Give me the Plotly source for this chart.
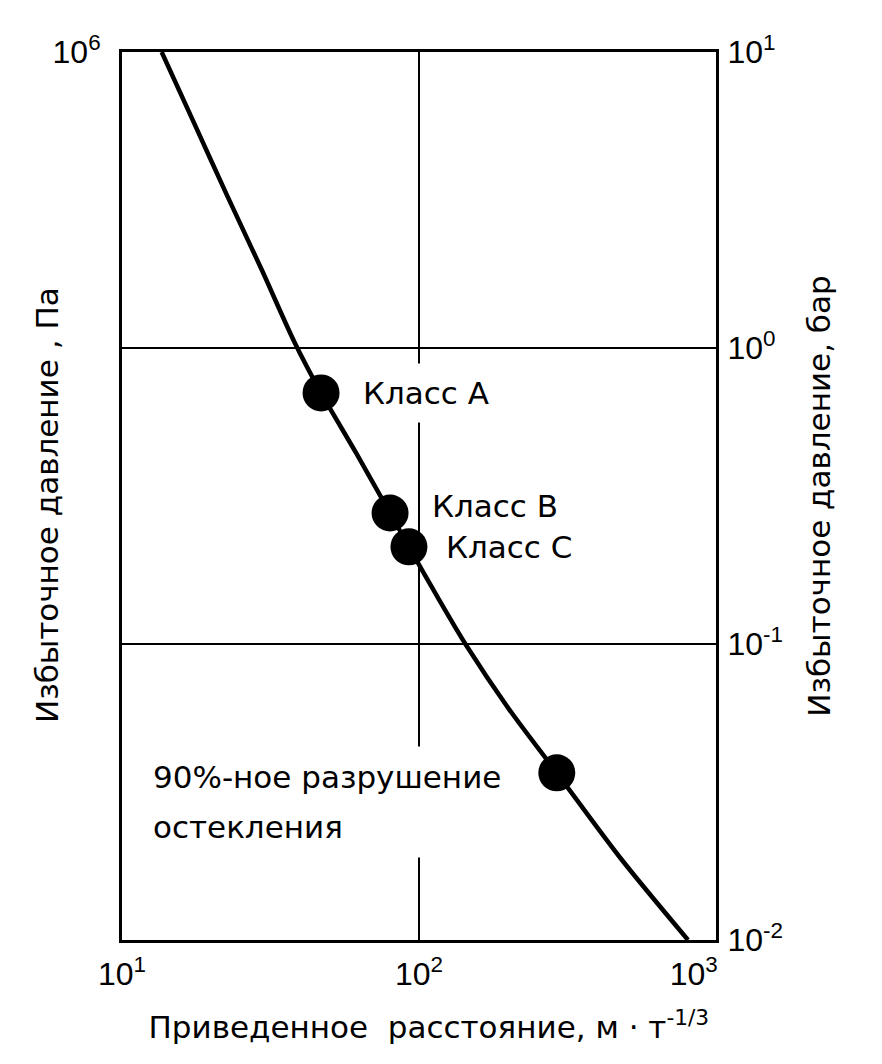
import math
import plotly.graph_objects as go

# reduced distance (m*t^-1/3) and overpressure (bar)
curve_dist = [13.6, 17.6, 22.7, 29.6, 38.2, 46.8, 61.4, 79.9, 92.5, 115, 144, 202, 291, 475, 805]
curve_bar = [10.0, 5.67, 3.24, 1.83, 1.04, 0.705, 0.442, 0.277, 0.213, 0.145, 0.0992, 0.0598,
             0.0367, 0.0190, 0.0100]
curve_pa = [b * 1e5 for b in curve_bar]

# damage points on the curve
point_dist = [46.8, 79.9, 92.5, 291]
point_bar = [0.705, 0.277, 0.213, 0.0367]
point_labels = ["Класс A", "Класс B", "Класс C", "90%-ное разрушение", "остекления"]

x_ticks = [10, 100, 1000]
x_ticktext = ["10<sup>1</sup>", "10<sup>2</sup>", "10<sup>3</sup>&nbsp;&nbsp;&nbsp;&nbsp;&nbsp;"]
bar_ticks = [0.01, 0.1, 1, 10]
bar_ticktext = ["10<sup>-2</sup>", "10<sup>-1</sup>", "10<sup>0</sup>", "10<sup>1</sup>"]
pa_ticks = [1e6]
pa_ticktext = ["10<sup>6</sup>"]

TXT = "DejaVu Sans"
TCK = "Liberation Sans"

fig = go.Figure()

# curve in Pa on the left axis (same scale as bar on the right)
fig.add_trace(go.Scatter(
    x=curve_dist, y=curve_pa, mode="lines",
    line=dict(color="black", width=4.5, shape="spline", smoothing=0.8),
    hoverinfo="skip", showlegend=False,
))
fig.add_trace(go.Scatter(
    x=point_dist, y=point_bar, yaxis="y2", mode="markers",
    marker=dict(color="black", size=37, line=dict(width=0)),
    showlegend=False,
))

lx = [math.log10(v) for v in point_dist]
ly = [math.log10(v) for v in point_bar]
lab_font = dict(family=TXT, size=31, color="black")
annotations = [
    # Класс A - white box cuts the 10^2 grid line
    dict(x=lx[0], y=ly[0], text=point_labels[0], xanchor="left", yanchor="middle",
         xshift=30, yshift=0, bgcolor="white", borderpad=11),
    dict(x=lx[1], y=ly[1], text=point_labels[1], xanchor="left", yanchor="middle",
         xshift=40, yshift=7),
    dict(x=lx[2], y=ly[2], text=point_labels[2], xanchor="left", yanchor="middle",
         xshift=35, yshift=0),
    dict(x=lx[3], y=ly[3], text=point_labels[3], xanchor="left", yanchor="middle",
         xshift=-417, yshift=-4, bgcolor="white", borderpad=12, width=360, align="left"),
    dict(x=lx[3], y=ly[3], text=point_labels[4], xanchor="left", yanchor="middle",
         xshift=-417, yshift=-54, bgcolor="white", borderpad=12, width=360, align="left"),
]
for a in annotations:
    a.update(xref="x", yref="y2", showarrow=False, font=lab_font)

# left axis title, placed by hand so it sits where the reference has it
annotations.append(dict(
    xref="paper", yref="paper", x=0, y=0.5, xanchor="center", yanchor="middle",
    xshift=-75, yshift=-9, textangle=-90, showarrow=False,
    text="Избыточное давление , Па", font=lab_font,
))

fig.update_layout(
    width=874, height=1056,
    margin=dict(l=114, r=166, t=44, b=124),
    paper_bgcolor="white", plot_bgcolor="white",
    annotations=annotations,
    xaxis=dict(
        type="log", range=[1, 3],
        tickvals=x_ticks, ticktext=x_ticktext, ticks="",
        tickfont=dict(family=TCK, size=32, color="black"),
        ticklabelstandoff=4,
        showgrid=True, gridcolor="black", gridwidth=2,
        showline=True, linecolor="black", linewidth=3, mirror=True,
        zeroline=False,
        title=dict(text="&nbsp;&nbsp;Приведенное  расстояние, м · т<sup>-1/3</sup>",
                   font=dict(family=TXT, size=31, color="black"), standoff=25),
    ),
    yaxis=dict(
        type="log", range=[3, 6],
        tickvals=pa_ticks, ticktext=pa_ticktext, ticks="",
        tickfont=dict(family=TCK, size=32, color="black"),
        ticklabelstandoff=12,
        showgrid=False, zeroline=False,
        showline=True, linecolor="black", linewidth=3,
    ),
    yaxis2=dict(
        type="log", range=[-2, 1], overlaying="y", side="right", anchor="x",
        tickvals=bar_ticks, ticktext=bar_ticktext, ticks="",
        tickfont=dict(family=TCK, size=32, color="black"),
        ticklabelstandoff=2,
        showgrid=True, gridcolor="black", gridwidth=2, zeroline=False,
        showline=True, linecolor="black", linewidth=3,
        title=dict(text="Избыточное давление, бар",
                   font=dict(family=TXT, size=31, color="black"), standoff=27),
    ),
)

fig.write_html("out.html")
